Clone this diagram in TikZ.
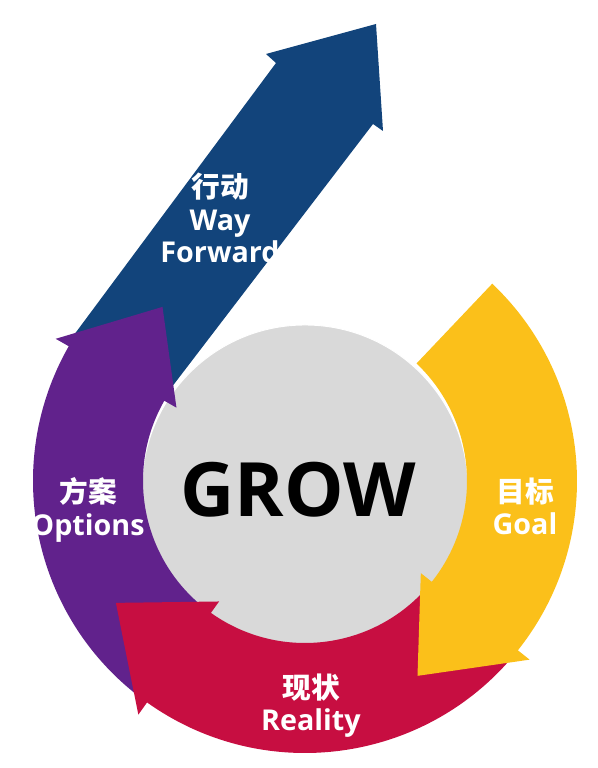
\documentclass[tikz,border=0pt]{standalone}
\usepackage{fontspec}
\setmainfont{Open Sans}
\newfontfamily\cjk{Noto Sans CJK SC}
\definecolor{wayblue}{RGB}{18,68,123}
\definecolor{optpurple}{RGB}{97,34,140}
\definecolor{realred}{RGB}{199,14,65}
\definecolor{goalyellow}{RGB}{251,192,26}
\definecolor{hubgray}{RGB}{217,217,217}

\begin{document}
\begin{tikzpicture}[
    x=0.03cm, y=0.03cm,
    lbl/.style={text=white,font=\fontsize{24.5}{27.5}\selectfont\bfseries,align=center,inner sep=0pt},
    hub/.style={fill=hubgray,draw=white,line width=0.8pt}
]
    \useasboundingbox (0,0) rectangle (598,768);
    \coordinate (ring) at (305,287);
    \coordinate (hubc) at (305,280);
    \fill[wayblue] (376,744) -- (383,637) -- (373,644) -- (142,342) -- (68,425) -- (276,705) -- (266,714) -- cycle;
    \draw[hub] (hubc) circle[radius=163];
    \foreach \tail/\base/\tip/\col in {233/150.3/129.3/optpurple, 321/234.5/212.8/realred, 46.5/-38.5/-60/goalyellow}
        \fill[fill=\col,shift={(ring)}] (\tail:272) arc[start angle=\tail,end angle=\base,radius=272]
            -- (\base:287) -- (\tip:225) -- (\base:148) -- (\base:162)
            arc[start angle=\base,end angle=\tail,radius=162] -- cycle;
    \node[font=\fontsize{64}{64}\selectfont\bfseries] (grow) at (298,278) {GROW};
    \node[lbl] (wayfwd) at (220,550) {{\cjk 行动}\\Way\\Forward};
    \node[lbl] (options) at (88,258) {{\cjk 方案}\\Options};
    \node[lbl] (goal) at (525,262) {{\cjk 目标}\\Goal};
    \node[lbl] (reality) at (311,62) {{\cjk 现状}\\Reality};
\end{tikzpicture}
\end{document}
